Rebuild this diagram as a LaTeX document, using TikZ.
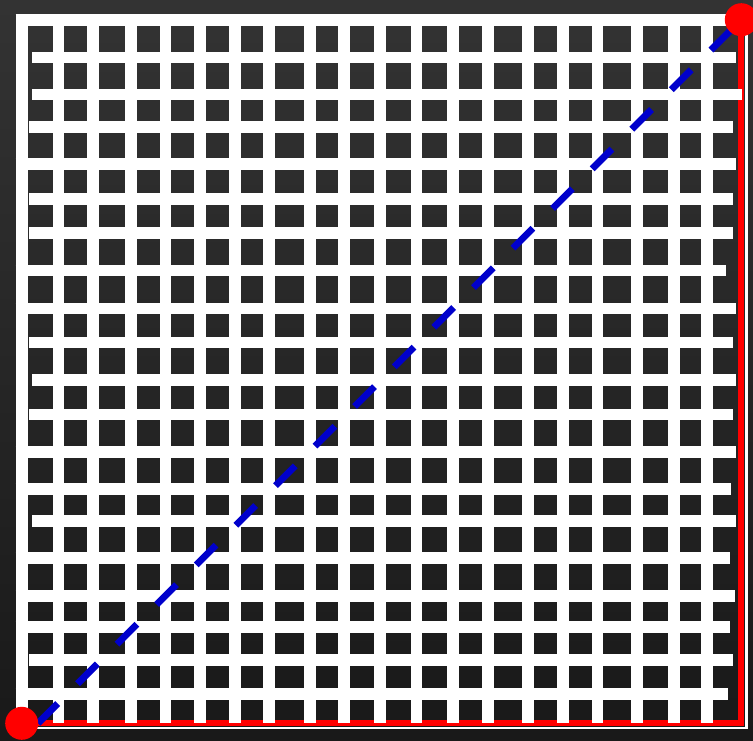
\documentclass[tikz,border=0pt]{standalone}
\usepackage{tikz}
\usepackage{xcolor}
\definecolor{BgTop}{RGB}{51,51,51}
\definecolor{BgBottom}{RGB}{25,25,25}
\definecolor{RouteRed}{RGB}{255,0,0}
\definecolor{CrowBlue}{RGB}{0,0,204}

\begin{document}
\begin{tikzpicture}[x=1pt,y=-1pt,
        street/.style={draw=white,line width=11.8pt},
        rim/.style={draw=white,line width=2.5pt},
        route/.style={draw=RouteRed,line width=5.8pt},
        crow/.style={draw=CrowBlue,line width=6.8pt,dash pattern=on 28pt off 28pt},
        pin/.style={circle,fill=RouteRed,inner sep=0pt,minimum size=33pt}
      ]
        \shade[top color=BgTop,bottom color=BgBottom] (0,0) rectangle (753,740);
        \useasboundingbox (0,0) rectangle (753,740);
        \coordinate (start) at (21.7,723.3);
        \coordinate (goal) at (741.3,19.7);
        \draw[route] (start) -| (goal);
        \draw[rim] (17,15.3) rectangle (746.7,727.9);
        \draw[street] (21.7,14) -- (21.7,729);
        \draw[street] (15.7,20) -- (736,20);
        \foreach \x in {58.5,93.3,131,165.5,200,234.7,269.2,309.7,344.3,380,
                        416.5,453.3,488.3,528.3,562.8,597.5,637,673.8,707}
          \draw[street] (\x,14) -- (\x,723);
        \foreach \y/\a/\b in {57.5/32.3/735.7, 94.5/32.3/742, 127/29.3/733,
                              163.8/15.7/735.7, 198.8/29.3/733, 232.7/29.3/733,
                              270.5/15.7/725.7, 308.5/15.7/736, 342.5/29.3/733.3,
                              379.7/32.3/736, 414.5/29.3/733.3, 452.2/15.7/736,
                              489.2/15.7/730.7, 521.3/32.3/735.5, 558.3/15.7/730,
                              595.8/15.7/735.3, 627/15.7/730, 659.8/29.3/733.3,
                              694.2/15.7/728.3}
          \draw[street] (\a,\y) -- (\b,\y);
        \draw[crow] ([xshift=16.2pt]start) -- (goal);
        \node[pin] (startpin) at (start) {};
        \node[pin] (goalpin) at (goal) {};
      \end{tikzpicture}
\end{document}
